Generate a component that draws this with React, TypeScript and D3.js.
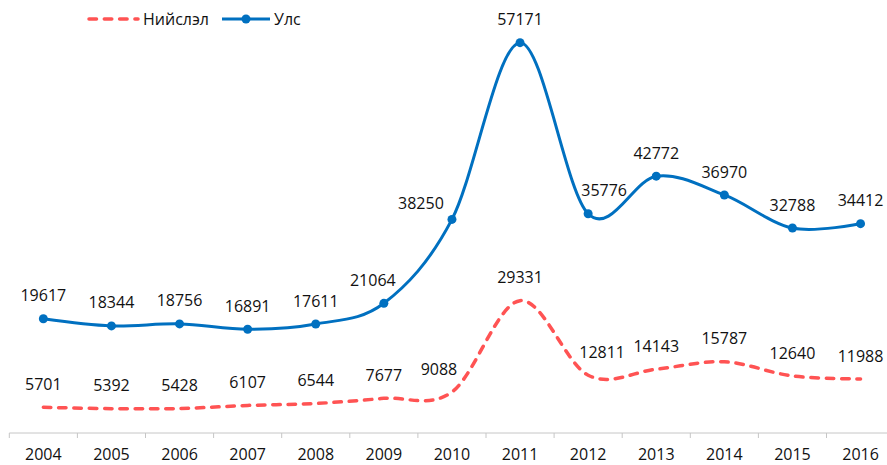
import React from "react";
import * as d3 from "d3";

const years = ["2004", "2005", "2006", "2007", "2008", "2009", "2010", "2011", "2012", "2013", "2014", "2015", "2016"];
const niislel = [5701, 5392, 5428, 6107, 6544, 7677, 9088, 29331, 12811, 14143, 15787, 12640, 11988];
const uls = [19617, 18344, 18756, 16891, 17611, 21064, 38250, 57171, 35776, 42772, 36970, 32788, 34412];
const seriesNames = ["Нийслэл", "Улс"];

// label nudges (px) for manually moved data labels
const ulsLabelNudge: Record<string, [number, number]> = { "2009": [-11, 0], "2010": [-31, 7], "2012": [16, 0] };
const niislelLabelNudge: Record<string, [number, number]> = { "2010": [-13, 0], "2012": [14, 0] };

const W = 887;
const H = 465;
const FONT = "'Open Sans', 'DejaVu Sans', sans-serif";
const RED = "#FF5353";
const BLUE = "#0070C0";

export default function App() {
  const x = d3.scaleBand<string>().domain(years).range([9.3, 9.3 + 13 * 68.1]);
  const cx = (yr: string) => (x(yr) as number) + x.bandwidth() / 2;
  const y = d3.scaleLinear().domain([0, 90000]).range([433, 26.9]);

  // stacked line chart: Улс is stacked on Нийслэл
  const redPts: [number, number][] = years.map((yr, i) => [cx(yr), y(niislel[i])]);
  const bluePts: [number, number][] = years.map((yr, i) => [cx(yr), y(niislel[i] + uls[i])]);

  const line = d3.line<[number, number]>().curve(d3.curveCatmullRom.alpha(0));

  const tickXs = years.map((yr) => x(yr) as number).concat([(x(years[years.length - 1]) as number) + x.bandwidth()]);

  return (
    <svg width={W} height={H} style={{ position: "absolute", left: 0, top: 0, background: "#fff" }} fontFamily={FONT}>
      {/* axis */}
      <line x1={9.3} x2={W} y1={433} y2={433} stroke="#C6C6C6" strokeWidth={1} />
      {tickXs.map((tx, i) => (
        <line key={"t" + i} x1={tx} x2={tx} y1={433} y2={438} stroke="#C6C6C6" strokeWidth={1} />
      ))}
      {years.map((yr) => (
        <text key={"yl" + yr} x={cx(yr)} y={454} dy="0.35em" textAnchor="middle" fontSize={16} fill="#111">
          {yr}
        </text>
      ))}

      {/* lines */}
      <path d={line(redPts) || ""} fill="none" stroke={RED} strokeWidth={3.5} strokeDasharray="7.5 7.8" strokeLinecap="round" />
      <path d={line(bluePts) || ""} fill="none" stroke={BLUE} strokeWidth={3} />
      {bluePts.map((p, i) => (
        <circle key={"m" + i} cx={p[0]} cy={p[1]} r={4.5} fill={BLUE} />
      ))}

      {/* data labels */}
      {years.map((yr, i) => {
        const n = niislelLabelNudge[yr] || [0, 0];
        return (
          <text key={"rl" + yr} x={redPts[i][0] + n[0]} y={redPts[i][1] - 23 + n[1]} dy="0.35em" textAnchor="middle" fontSize={16} fill="#111">
            {niislel[i]}
          </text>
        );
      })}
      {years.map((yr, i) => {
        const n = ulsLabelNudge[yr] || [0, 0];
        return (
          <text key={"bl" + yr} x={bluePts[i][0] + n[0]} y={bluePts[i][1] - 23 + n[1]} dy="0.35em" textAnchor="middle" fontSize={16} fill="#111">
            {uls[i]}
          </text>
        );
      })}

      {/* legend */}
      <line x1={89} x2={138} y1={19} y2={19} stroke={RED} strokeWidth={3.5} strokeDasharray="7.5 7.8" strokeLinecap="round" />
      <text x={143} y={19} dy="0.35em" fontSize={16} fill="#111">{seriesNames[0]}</text>
      <line x1={222} x2={270} y1={19} y2={19} stroke={BLUE} strokeWidth={3} />
      <circle cx={246} cy={19} r={4.5} fill={BLUE} />
      <text x={274} y={19} dy="0.35em" fontSize={16} fill="#111">{seriesNames[1]}</text>
    </svg>
  );
}
